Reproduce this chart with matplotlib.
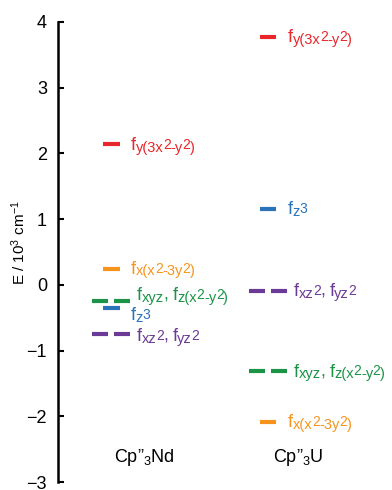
import matplotlib
matplotlib.use('Agg')
import matplotlib.pyplot as plt
from matplotlib.transforms import offset_copy

plt.rcParams['font.family'] = ['Liberation Sans', 'DejaVu Sans']
plt.rcParams['mathtext.fontset'] = 'custom'
plt.rcParams['mathtext.rm'] = 'Liberation Sans'
plt.rcParams['mathtext.it'] = 'Liberation Sans'

# orbital labels as runs: (text, level) 0 = normal, 1 = subscript, 2 = raised inside subscript
orbital_labels = [
    [('f', 0), ('y(3x', 1), ('2', 2), ('-y', 1), ('2', 2), (')', 1)],
    [('f', 0), ('x(x', 1), ('2', 2), ('-3y', 1), ('2', 2), (')', 1)],
    [('f', 0), ('xyz', 1), (',', 0), (' f', 0), ('z(x', 1), ('2', 2), ('-y', 1), ('2', 2), (')', 1)],
    [('f', 0), ('z', 1), ('3', 2)],
    [('f', 0), ('xz', 1), ('2', 2), (',', 0), (' f', 0), ('yz', 1), ('2', 2)],
]
orbital_colors = ['#e8262b', '#f7941d', '#1b9447', '#2a73b8', '#6a3a96']
degeneracy = [1, 1, 2, 1, 2]
# crystal field levels, 10^3 cm^-1
nd_energy = [2.15, 0.24, -0.24, -0.35, -0.75]
u_energy = [3.77, -2.08, -1.31, 1.16, -0.09]
compounds = ['Cp”$_\\mathrm{3}$Nd', 'Cp”$_\\mathrm{3}$U']

# layout
col_x = [1.0, 2.0]
nd_text_dy = [-0.1, -0.07, 0.01, -0.19, -0.1]
u_text_dy = [-0.07, -0.08, -0.085, -0.085, -0.075]
run_size = {0: 13, 1: 10.5, 2: 10}
run_rise = {0: 0, 1: -1.3, 2: 0.8}   # points

fig = plt.figure(figsize=(3.92, 4.9), dpi=100)
ax = fig.add_axes([58 / 392, 8 / 490, 334 / 392, 460 / 490])
renderer = fig.canvas.get_renderer()


def draw_runs(x, y, runs, color):
    dx = 0.0
    for s, lvl in runs:
        tr = offset_copy(ax.transData, fig=fig, x=dx, y=run_rise[lvl], units='points')
        t = ax.text(x, y, s, transform=tr, color=color, fontsize=run_size[lvl],
                    ha='left', va='baseline')
        dx += t.get_window_extent(renderer).width * 72 / fig.dpi - 0.3


for cx, energies, dys in zip(col_x, [nd_energy, u_energy], [nd_text_dy, u_text_dy]):
    for runs, col, deg, e, dy in zip(orbital_labels, orbital_colors, degeneracy, energies, dys):
        if deg == 1:
            ax.plot([cx - 0.054, cx + 0.054], [e, e], color=col, lw=3,
                    solid_capstyle='butt')
            tx = cx + 0.128
        else:
            for s in (-1, 1):
                ax.plot([cx + s * 0.019, cx + s * 0.121], [e, e], color=col, lw=3,
                        solid_capstyle='butt')
            tx = cx + 0.165
        draw_runs(tx, e + dy, runs, col)

ax.text(col_x[0] + 0.215, -2.62, compounds[0], fontsize=13, ha='center', va='center')
ax.text(col_x[1] + 0.19, -2.62, compounds[1], fontsize=13, ha='center', va='center')

ax.set_xlim(0.662, 2.79)
ax.set_ylim(-3, 4)
ax.set_yticks(range(-3, 5))
ax.set_xticks([])
for side in ['top', 'right', 'bottom']:
    ax.spines[side].set_visible(False)
ax.spines['left'].set_linewidth(1.8)
ax.tick_params(axis='y', direction='in', length=4, width=1.5, labelsize=13, pad=8)
ax.set_ylabel(r'E / 10$^\mathrm{3}$ cm$^\mathrm{-1}$', fontsize=11)
ax.yaxis.set_label_coords(-0.09, 0.52)

fig.savefig('out.png', dpi=100)
